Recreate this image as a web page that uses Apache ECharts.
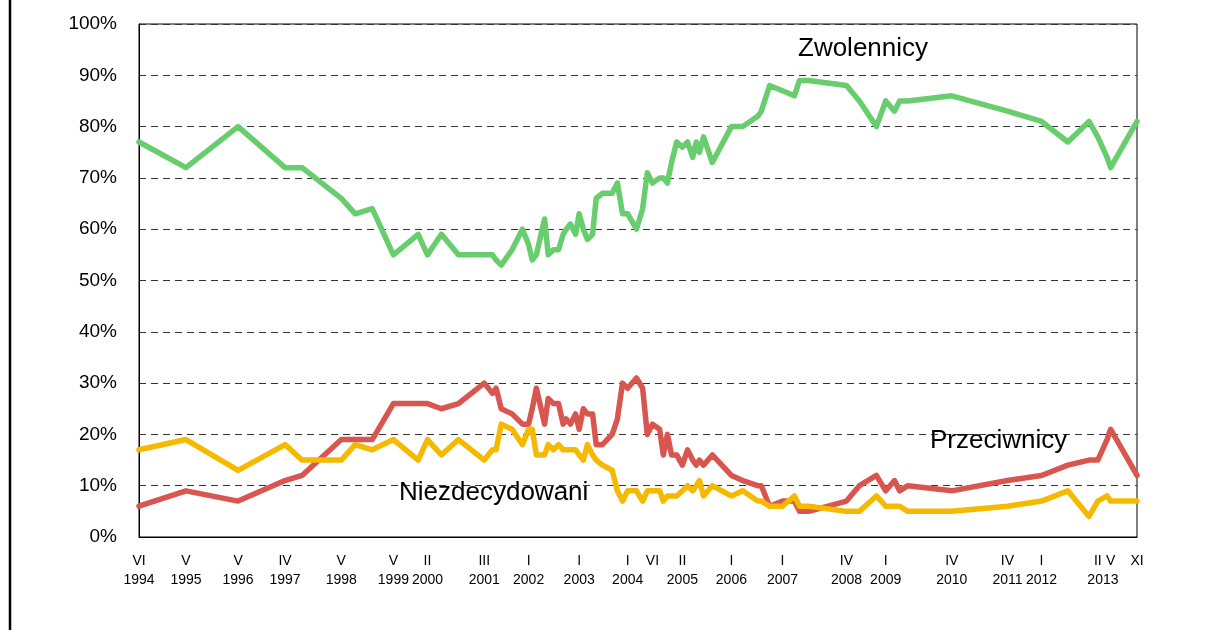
<!DOCTYPE html>
<html>
<head>
<meta charset="utf-8">
<title>Zwolennicy / Przeciwnicy / Niezdecydowani</title>
<script src="https://cdn.jsdelivr.net/npm/echarts@6.0.0/dist/echarts.min.js"></script>
<style>
  html, body { margin: 0; padding: 0; background: #fff; }
  #chart { width: 1207px; height: 630px; }
</style>
</head>
<body>
<div id="chart"></div>
<script>
// daty badań (ułamek roku)
let dates = [1994.50, 1995.41, 1996.42, 1997.33, 1997.66, 1998.42, 1998.69, 1999.02, 1999.43, 1999.91,
  2000.09, 2000.36, 2000.69, 2001.19, 2001.35, 2001.42, 2001.52, 2001.73, 2001.93, 2002.05,
  2002.12, 2002.20, 2002.36, 2002.43, 2002.53, 2002.63, 2002.72, 2002.78, 2002.86, 2002.96,
  2003.03, 2003.11, 2003.19, 2003.29, 2003.36, 2003.48, 2003.67, 2003.77, 2003.87, 2003.97,
  2004.14, 2004.26, 2004.35, 2004.45, 2004.59, 2004.66, 2004.74, 2004.82, 2004.92, 2005.03,
  2005.13, 2005.23, 2005.30, 2005.36, 2005.44, 2005.61, 2005.98, 2006.20, 2006.49, 2006.56,
  2006.72, 2006.97, 2007.20, 2007.30, 2007.48, 2008.21, 2008.46, 2008.79, 2008.97, 2009.14,
  2009.24, 2009.40, 2010.25, 2011.33, 2011.99, 2012.50, 2012.91, 2013.08, 2013.26, 2013.33,
  2013.84]

let zwolennicy = [77, 72, 80, 72, 72, 66, 63, 64, 55, 59,
  55, 59, 55, 55, 55, 54, 53, 56, 60, 57,
  54, 55, 62, 55, 56, 56, 59, 60, 61, 59,
  63, 60, 58, 59, 66, 67, 67, 69, 63, 63,
  60, 64, 71, 69, 70, 70, 69, 73, 77, 76,
  77, 74, 77, 75, 78, 73, 80, 80, 82, 83,
  88, 87, 86, 89, 89, 88, 85, 80, 85, 83,
  85, 85, 86, 83, 81, 77, 81, 78, 74, 72,
  81]

let przeciwnicy = [6, 9, 7, 11, 12, 19, 19, 19, 26, 26,
  26, 25, 26, 30, 28, 29, 25, 24, 22, 22,
  25, 29, 22, 27, 26, 26, 22, 23, 22, 24,
  21, 25, 24, 24, 18, 18, 20, 23, 30, 29,
  31, 29, 20, 22, 21, 16, 20, 16, 16, 14,
  17, 15, 14, 15, 14, 16, 12, 11, 10, 10,
  6, 7, 7, 5, 5, 7, 10, 12, 9, 11,
  9, 10, 9, 11, 12, 14, 15, 15, 19, 21,
  12]

let niezdecydowani = [17, 19, 13, 18, 15, 15, 18, 17, 19, 15,
  19, 16, 19, 15, 17, 17, 22, 21, 18, 21,
  21, 16, 16, 18, 17, 18, 17, 17, 17, 17,
  16, 15, 18, 16, 15, 14, 13, 9, 7, 9,
  9, 7, 9, 9, 9, 7, 8, 8, 8, 9,
  10, 9, 10, 11, 8, 10, 8, 9, 7, 7,
  6, 6, 8, 6, 6, 5, 5, 8, 6, 6,
  6, 5, 5, 6, 7, 9, 4, 7, 8, 7,
  7]

// podpisy osi X
let tickDates = [1994.50, 1995.41, 1996.42, 1997.33, 1998.42, 1999.43, 2000.09, 2001.19, 2002.05, 2003.03,
  2003.97, 2004.45, 2005.03, 2005.98, 2006.97, 2008.21, 2008.97, 2010.25, 2011.33, 2011.99,
  2013.08, 2013.18, 2013.33, 2013.84]
let tickMonths = ['VI', 'V', 'V', 'IV', 'V', 'V', 'II', 'III', 'I', 'I',
  'I', 'VI', 'II', 'I', 'I', 'IV', 'I', 'IV', 'IV', 'I',
  'II', '', 'V', 'XI']
let tickYears = ['1994', '1995', '1996', '1997', '1998', '1999', '2000', '2001', '2002', '2003',
  '2004', '', '2005', '2006', '2007', '2008', '2009', '2010', '2011', '2012',
  '', '2013', '', '']

let yTicks = [0, 10, 20, 30, 40, 50, 60, 70, 80, 90, 100]

let FONT = '"Liberation Sans", Arial, sans-serif'

let pairs = function(vals) {
  return dates.map((d, i) => [d, vals[i]])
}

let tickText = function(v) {
  let best = 0
  for (let i = 1; i < tickDates.length; i++) {
    if (Math.abs(tickDates[i] - v) < Math.abs(tickDates[best] - v)) best = i
  }
  let m = tickMonths[best], y = tickYears[best]
  if (!y) return m
  return (m || ' ') + '\n' + y
}

let lineSeries = function(name, vals, color) {
  return {
    name: name,
    type: 'line',
    data: pairs(vals),
    symbol: 'none',
    showSymbol: false,
    lineStyle: { color: color, width: 5.5, join: 'round', cap: 'round' },
    itemStyle: { color: color },
    emphasis: { disabled: true },
    z: 3
  }
}

let setChart = function(ele, options) {
  if (typeof echarts === 'object') {
    let myChart = echarts.init(ele, null, { renderer: 'canvas' })
    myChart.setOption(options)
    return myChart
  }
}

let options = {
  animation: false,
  backgroundColor: '#fff',
  textStyle: { fontFamily: FONT },
  grid: {
    left: 139, right: 70, top: 24, bottom: 93,
    show: true, borderColor: '#000', borderWidth: 1,
    containLabel: false
  },
  xAxis: {
    type: 'value',
    min: dates[0],
    max: dates[dates.length - 1],
    splitLine: { show: false },
    axisTick: { show: false },
    axisLine: { show: true, lineStyle: { color: '#000', width: 1 } },
    axisLabel: {
      customValues: tickDates,
      formatter: tickText,
      color: '#000',
      fontSize: 14,
      lineHeight: 19,
      margin: 15,
      fontFamily: FONT,
      hideOverlap: false,
      showMinLabel: true,
      showMaxLabel: true
    }
  },
  yAxis: {
    type: 'value',
    min: yTicks[0],
    max: yTicks[yTicks.length - 1],
    interval: 10,
    axisLine: { show: true, lineStyle: { color: '#000', width: 1 } },
    axisTick: { show: false },
    axisLabel: {
      formatter: '{value}%',
      color: '#000',
      fontSize: 19,
      margin: 22,
      fontFamily: FONT
    },
    splitLine: {
      show: true,
      lineStyle: { color: '#333', type: [7, 5], width: 1 }
    }
  },
  series: [
    lineSeries('Zwolennicy', zwolennicy, '#68cd6d'),
    lineSeries('Przeciwnicy', przeciwnicy, '#d8564f'),
    lineSeries('Niezdecydowani', niezdecydowani, '#f5b900')
  ],
  graphic: [
    { type: 'line', shape: { x1: 10, y1: 0, x2: 10, y2: 630 }, style: { stroke: '#000', lineWidth: 2.5 } },
    { type: 'text', x: 798, y: 49, style: { text: 'Zwolennicy', font: '26px ' + FONT, fill: '#000', verticalAlign: 'middle' }, z: 10 },
    { type: 'text', x: 930, y: 441, style: { text: 'Przeciwnicy', font: '26px ' + FONT, fill: '#000', verticalAlign: 'middle' }, z: 10 },
    { type: 'text', x: 399, y: 493, style: { text: 'Niezdecydowani', font: '26px ' + FONT, fill: '#000', verticalAlign: 'middle' }, z: 10 }
  ]
}

let chart = setChart(document.getElementById('chart'), options)
</script>
</body>
</html>
